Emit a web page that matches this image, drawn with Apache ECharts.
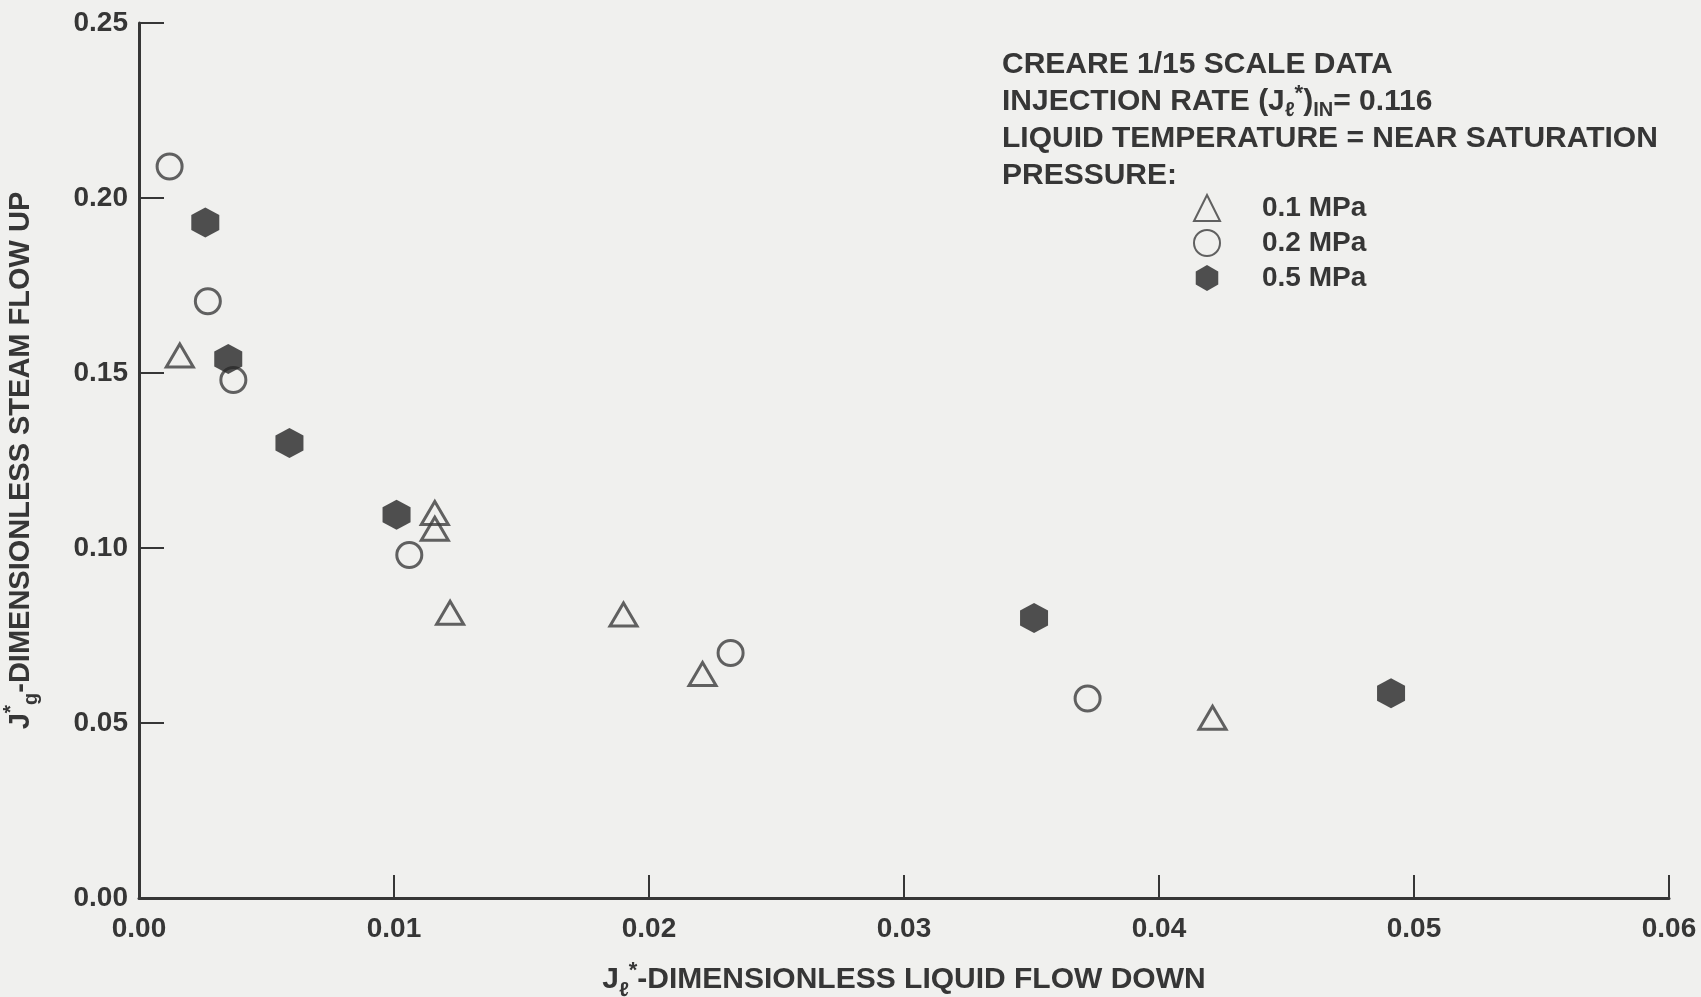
<!DOCTYPE html>
<html>
<head>
<meta charset="utf-8">
<script src="https://cdn.jsdelivr.net/npm/echarts@6/dist/echarts.min.js"></script>
<style>
html,body{margin:0;padding:0;background:#f0f0ee;}
#c{width:1701px;height:997px;}
</style>
</head>
<body>
<div id="c"></div>
<script>
// ---- data ----
const seriesNames = ['0.1 MPa', '0.2 MPa', '0.5 MPa'];
const xTicks = [0.00, 0.01, 0.02, 0.03, 0.04, 0.05, 0.06];
const yTicks = [0.00, 0.05, 0.10, 0.15, 0.20, 0.25];

// 0.1 MPa (open triangles): [J_l*, J_g*]
const p01x = [0.0016, 0.0116, 0.0116, 0.0122, 0.0190, 0.0221, 0.0421];
const p01y = [0.155, 0.110, 0.1055, 0.0815, 0.081, 0.064, 0.0515];
// 0.2 MPa (open circles)
const p02x = [0.0012, 0.0027, 0.0037, 0.0106, 0.0232, 0.0372];
const p02y = [0.209, 0.1705, 0.148, 0.098, 0.070, 0.057];
// 0.5 MPa (filled hexagons)
const p05x = [0.0026, 0.0035, 0.0059, 0.0101, 0.0351, 0.0491];
const p05y = [0.193, 0.154, 0.130, 0.1095, 0.080, 0.0585];

const zip = (xs, ys) => xs.map((x, i) => [x, ys[i]]);

const ink = '#363636';
const font = '"Liberation Sans", Arial, sans-serif';
const hexPath = 'path://M0,-1 L0.866,-0.5 L0.866,0.5 L0,1 L-0.866,0.5 L-0.866,-0.5 Z';

function richSet(size, lh) {
  return {
    a: {fontFamily: font, color: ink, fontSize: size, fontWeight: 'bold', lineHeight: lh},
    s: {fontFamily: font, color: ink, fontSize: Math.round(size * 0.68), fontWeight: 'bold', lineHeight: Math.round(size * 0.68), verticalAlign: 'bottom'},
    p: {fontFamily: font, color: ink, fontSize: Math.round(size * 0.72), fontWeight: 'bold', lineHeight: Math.round(size * 0.72), verticalAlign: 'top'}
  };
}

const chart = echarts.init(document.getElementById('c'), null, {renderer: 'canvas'});
chart.setOption({
  backgroundColor: '#f0f0ee',
  animation: false,
  textStyle: {fontFamily: font, color: ink},
  title: {
    left: 1002, top: 46, padding: 0,
    text: '{a|CREARE 1/15 SCALE DATA}\n' +
          '{a|INJECTION RATE (J}{s|ℓ}{p|*}{a|)}{s|IN}{a|= 0.116}\n' +
          '{a|LIQUID TEMPERATURE = NEAR SATURATION}\n' +
          '{a|PRESSURE:}',
    textStyle: {
      fontFamily: font, color: ink, fontSize: 30, fontWeight: 'bold', lineHeight: 37,
      rich: richSet(30, 37)
    }
  },
  legend: {
    orient: 'vertical', left: 1193, top: 194, padding: 0,
    itemWidth: 26, itemHeight: 26, itemGap: 7,
    data: seriesNames,
    textStyle: {fontFamily: font, color: ink, fontSize: 28, fontWeight: 'bold', padding: [0, 0, 0, 37]}
  },
  grid: {left: 139, right: 32, top: 23, bottom: 99, containLabel: false, outerBoundsMode: 'none'},
  xAxis: {
    type: 'value', min: xTicks[0], max: xTicks[xTicks.length - 1], interval: 0.01,
    axisLine: {show: true, lineStyle: {color: ink, width: 3}},
    axisTick: {show: true, inside: true, length: 23, lineStyle: {color: ink, width: 2}},
    splitLine: {show: false},
    axisLabel: {fontFamily: font, color: ink, fontSize: 28, fontWeight: 'bold', margin: 17,
      formatter: v => v.toFixed(2)},
    name: '{a|J}{s|ℓ}{p|*}{a|-DIMENSIONLESS LIQUID FLOW DOWN}',
    nameLocation: 'middle', nameGap: 62,
    nameTextStyle: {
      fontFamily: font, color: ink, fontSize: 30, fontWeight: 'bold', lineHeight: 40,
      rich: richSet(30, 40)
    }
  },
  yAxis: {
    type: 'value', min: yTicks[0], max: yTicks[yTicks.length - 1], interval: 0.05,
    axisLine: {show: true, lineStyle: {color: ink, width: 3}},
    axisTick: {show: true, inside: true, length: 25, lineStyle: {color: ink, width: 2}},
    splitLine: {show: false},
    axisLabel: {fontFamily: font, color: ink, fontSize: 28, fontWeight: 'bold', margin: 11,
      formatter: v => v.toFixed(2)},
    name: '{a|J}{p|*}{s|g}{a|-DIMENSIONLESS STEAM FLOW UP}',
    nameLocation: 'middle', nameGap: 98, nameRotate: 90,
    nameTextStyle: {
      fontFamily: font, color: ink, fontSize: 29, fontWeight: 'bold', lineHeight: 40,
      rich: richSet(29, 40)
    }
  },
  series: [
    {
      name: seriesNames[1], type: 'scatter', z: 2,
      symbol: 'circle', symbolSize: 25,
      itemStyle: {color: 'rgba(0,0,0,0)', borderColor: '#3c3c3c', borderWidth: 3},
      emphasis: {disabled: true},
      data: zip(p02x, p02y)
    },
    {
      name: seriesNames[0], type: 'scatter', z: 3,
      symbol: 'triangle', symbolSize: [27, 23],
      itemStyle: {color: 'rgba(0,0,0,0)', borderColor: '#3c3c3c', borderWidth: 3},
      emphasis: {disabled: true},
      data: zip(p01x, p01y)
    },
    {
      name: seriesNames[2], type: 'scatter', z: 4,
      symbol: hexPath, symbolSize: [28, 30], symbolKeepAspect: false,
      itemStyle: {color: '#262626', borderWidth: 0},
      emphasis: {disabled: true},
      data: zip(p05x, p05y)
    }
  ]
});
</script>
</body>
</html>
